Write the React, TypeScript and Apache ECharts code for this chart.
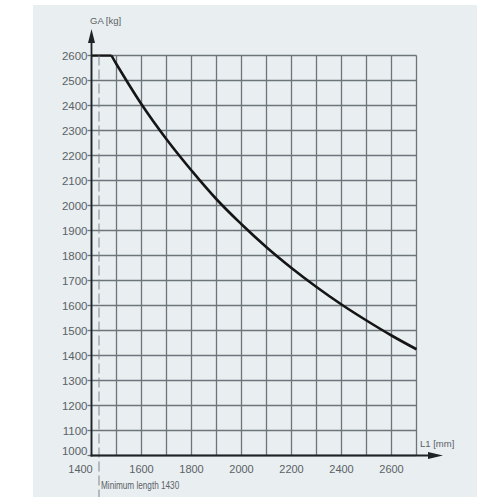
import React, { useEffect, useRef } from "react";
import * as echarts from "echarts";

// Data
const flatLength = [1400, 1480];
const flatLoad = [2600, 2600];
const curveLength = [1480, 1500, 1600, 1700, 1800, 1900, 2000, 2100, 2200, 2300, 2400, 2500, 2600, 2700];
const curveLoad = [2600, 2565, 2405, 2265, 2140, 2025, 1925, 1833, 1750, 1674, 1604, 1540, 1480, 1425];
const minimumLength = 1430;

const xMin = 1400;
const xMax = 2700;
const xStep = 100;
const xLabelStep = 200;
const yMin = 1000;
const yMax = 2600;
const yStep = 100;

const xAxisTitle = "L1 [mm]";
const yAxisTitle = "GA [kg]";
const minimumNote = "Minimum length 1430";

export default function App() {
  const ref = useRef<HTMLDivElement>(null);

  useEffect(() => {
    document.body.style.margin = "0";
    const chart = echarts.init(ref.current as HTMLDivElement, null, { renderer: "svg" });
    const font = "'Liberation Sans', Arial, sans-serif";
    const gridLine = "#6b757a";
    const labelColor = "#5a6266";

    const option: any = {
      animation: false,
      backgroundColor: "#ffffff",
      grid: { left: 91.5, top: 55.5, width: 325, height: 400, show: false },
      xAxis: {
        type: "value",
        min: xMin,
        max: xMax,
        interval: xStep,
        axisLine: { show: false },
        axisTick: { show: false },
        splitLine: { show: true, lineStyle: { color: gridLine, width: 1.3 } },
        axisLabel: {
          margin: 8,
          fontFamily: font,
          fontSize: 11,
          color: labelColor,
          formatter: (v: number) => {
            if ((v - xMin) % xLabelStep !== 0) return "";
            if (v === xMin) return "{shift|" + v + "}";
            return String(v);
          },
          rich: { shift: { padding: [0, 22, 0, 0], fontFamily: font, fontSize: 11, color: labelColor } },
        },
      },
      yAxis: {
        type: "value",
        min: yMin,
        max: yMax,
        interval: yStep,
        axisLine: { show: false },
        axisTick: { show: true, length: 4, lineStyle: { color: gridLine, width: 1.3 } },
        splitLine: { show: true, lineStyle: { color: gridLine, width: 1.3 } },
        axisLabel: {
          margin: 4,
          fontFamily: font,
          fontSize: 11.5,
          color: labelColor,
          formatter: (v: number) => (v === yMin ? "{lift|" + v + "}" : String(v)),
          rich: { lift: { padding: [0, 0, 10, 0], fontFamily: font, fontSize: 11.5, color: labelColor } },
        },
      },
      series: [
        {
          type: "line",
          data: flatLength.map((x, i) => [x, flatLoad[i]]),
          symbol: "none",
          lineStyle: { color: "#151515", width: 2.6 },
          z: 5,
        },
        {
          type: "line",
          data: curveLength.map((x, i) => [x, curveLoad[i]]),
          symbol: "none",
          smooth: 0.4,
          lineStyle: { color: "#151515", width: 2.6 },
          z: 5,
        },
      ],
    };
    chart.setOption(option);

    const o = chart.convertToPixel({ gridIndex: 0 }, [xMin, yMin]) as number[];
    const t = chart.convertToPixel({ gridIndex: 0 }, [xMax, yMax]) as number[];
    const m = chart.convertToPixel({ gridIndex: 0 }, [minimumLength, yMax]) as number[];
    const axisColor = "#1e2326";

    chart.setOption({
      graphic: [
        { type: "rect", z: -10, silent: true, shape: { x: 33, y: 5, width: 444, height: 492 }, style: { fill: "#e9eef1" } },
        { type: "line", z: 20, shape: { x1: m[0], y1: t[1], x2: m[0], y2: 497 }, style: { stroke: "#7d878c", lineWidth: 1, lineDash: [10, 4] } },
        { type: "line", z: 30, shape: { x1: o[0], y1: o[1] + 1, x2: o[0], y2: 40 }, style: { stroke: axisColor, lineWidth: 1.8 } },
        { type: "polygon", z: 30, shape: { points: [[o[0], 29], [o[0] - 3.5, 43], [o[0] + 3.5, 43]] }, style: { fill: axisColor } },
        { type: "line", z: 30, shape: { x1: o[0] - 1, y1: o[1], x2: 430, y2: o[1] }, style: { stroke: axisColor, lineWidth: 1.8 } },
        { type: "polygon", z: 30, shape: { points: [[443, o[1]], [428, o[1] - 3.5], [428, o[1] + 3.5]] }, style: { fill: axisColor } },
        { type: "text", z: 30, x: 90, y: 20, style: { text: yAxisTitle, fontFamily: font, fontSize: 9.5, fill: labelColor, verticalAlign: "middle", align: "left" } },
        { type: "text", z: 30, x: 420, y: 443, style: { text: xAxisTitle, fontFamily: font, fontSize: 9.5, fill: labelColor, verticalAlign: "middle", align: "left" } },
        { type: "text", z: 30, x: 101, y: 485, scaleX: 0.78, style: { text: minimumNote, fontFamily: font, fontSize: 10.5, fill: labelColor, verticalAlign: "middle", align: "left" } },
      ],
    });

    return () => chart.dispose();
  }, []);

  return <div ref={ref} style={{ width: 477, height: 497 }} />;
}
